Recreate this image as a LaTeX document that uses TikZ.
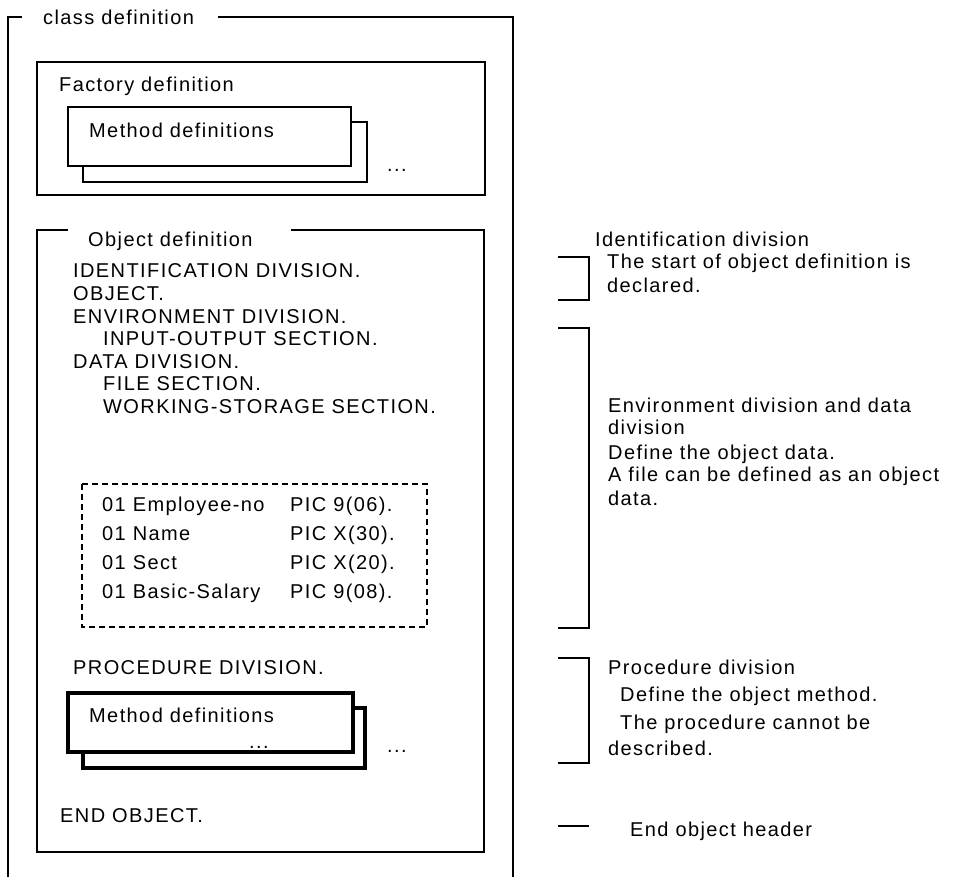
\documentclass[tikz,border=0pt]{standalone}
\usepackage{fontspec}
\setmainfont{Liberation Sans}[LetterSpace=7]
\usetikzlibrary{positioning}

\tikzset{
  txt/.style={anchor=base west, inner sep=0pt},
  frame/.style={line width=1.3pt},
  heavy/.style={line width=3.5pt},
  brace/.style={line width=1.3pt},
}

\begin{document}
\begin{tikzpicture}[x=1pt, y=-1pt, font=\fontsize{20}{25}\selectfont]
	\useasboundingbox (0,0) rectangle (960,877);
	% class definition frame, open at the bottom
	\node[txt] (cls) at (43,25) {class definition};
	\draw[frame] (22,17) -- (8,17) -- (8,877);
	\draw[frame] (218,17) -- (513,17) -- (513,877);
	% factory definition
	\draw[frame] (37,62) rectangle (485,195);
	\node[txt] (fact) at (59,92) {Factory definition};
	\draw[frame] (351,122) -- (367,122) -- (367,182) -- (83,182) -- (83,166);
	\draw[frame, fill=white] (68,107) rectangle (351,166);
	\node[txt] (fmeth) at (89,138) {Method definitions};
	\node[txt] (fdots) at (387,172) {...};
	% object definition
	\draw[frame] (68,230) -- (37,230) -- (37,852) -- (484,852) -- (484,230) -- (291,230);
	\node[txt] (obj) at (88,247) {Object definition};
	\node[txt] (ident) at (73,277) {IDENTIFICATION DIVISION.};
	\node[txt] (objpara) at (73,300) {OBJECT.};
	\node[txt] (envdiv) at (73,323) {ENVIRONMENT DIVISION.};
	\node[txt] (iosec) at (103,345) {INPUT-OUTPUT SECTION.};
	\node[txt] (datadiv) at (73,368) {DATA DIVISION.};
	\node[txt] (filesec) at (103,390) {FILE SECTION.};
	\node[txt] (wssec) at (103,413) {WORKING-STORAGE SECTION.};
	% working storage items
	\draw[frame, dash pattern=on 6pt off 4pt] (82,484) rectangle (427,627);
	\node[txt] (empno) at (102,511) {01 Employee-no};
	\node[txt] (empnopic) at (290,511) {PIC 9(06).};
	\node[txt] (name) at (102,540) {01 Name};
	\node[txt] (namepic) at (290,540) {PIC X(30).};
	\node[txt] (sect) at (102,569) {01 Sect};
	\node[txt] (sectpic) at (290,569) {PIC X(20).};
	\node[txt] (salary) at (102,598) {01 Basic-Salary};
	\node[txt] (salarypic) at (290,598) {PIC 9(08).};
	\node[txt] (procdiv) at (73,674) {PROCEDURE DIVISION.};
	% object methods
	\draw[heavy] (353,708) -- (365,708) -- (365,768) -- (83,768) -- (83,752);
	\draw[heavy, fill=white] (68,693) rectangle (353,752);
	\node[txt] (ometh) at (89,722) {Method definitions};
	\node[txt] (odotsin) at (249,748) {...};
	\node[txt] (odots) at (387,752) {...};
	\node[txt] (endobj) at (60,822) {END OBJECT.};
	% notes on the right
	\draw[brace] (558,257) -- (589,257) -- (589,300) -- (558,300);
	\draw[brace] (558,328) -- (589,328) -- (589,628) -- (558,628);
	\draw[brace] (558,658) -- (589,658) -- (589,763) -- (558,763);
	\draw[brace] (558,826) -- (589,826);
	\node[txt] (identnote) at (595,247) {Identification division};
	\node[txt] (startnote) at (607,269) {The start of object definition is};
	\node[txt] (declnote) at (607,292) {declared.};
	\node[txt] (envnote) at (608,412) {Environment division and data};
	\node[txt] (envnotea) at (608,434) {division};
	\node[txt] (envnoteb) at (608,459) {Define the object data.};
	\node[txt] (envnotec) at (608,481) {A file can be defined as an object};
	\node[txt] (envnoted) at (608,505) {data.};
	\node[txt] (procnote) at (608,674) {Procedure division};
	\node[txt] (procnotea) at (620,701) {Define the object method.};
	\node[txt] (procnoteb) at (620,729) {The procedure cannot be};
	\node[txt] (procnotec) at (608,755) {described.};
	\node[txt] (endnote) at (630,836) {End object header};
\end{tikzpicture}
\end{document}
